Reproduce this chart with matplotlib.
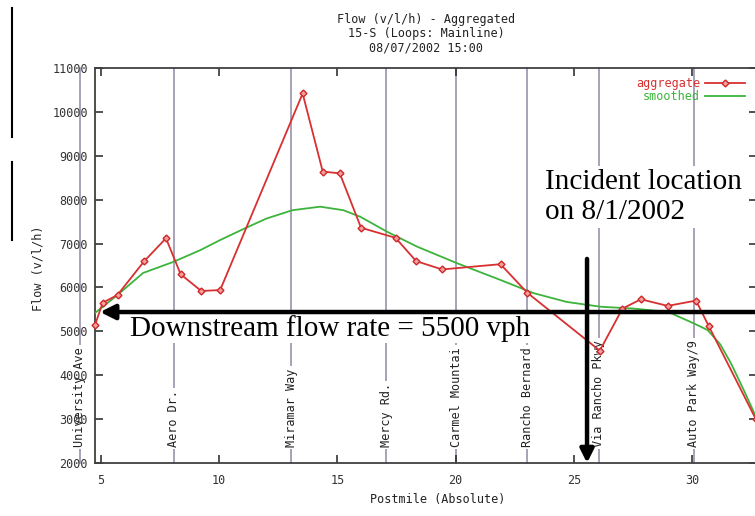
import matplotlib
matplotlib.use('Agg')
import matplotlib.pyplot as plt
from matplotlib.lines import Line2D

# aggregated flow per postmile
agg_pm = [4.75, 5.07, 5.7, 6.83, 7.75, 8.37, 9.24, 10.04, 13.53, 14.38, 15.1, 16.0,
          17.46, 18.33, 19.43, 21.9, 23.03, 26.1, 27.06, 27.84, 28.97, 30.17, 30.7, 32.7]
agg_flow = [5150, 5650, 5830, 6600, 7120, 6300, 5920, 5940, 10420, 8640, 8600, 7360,
            7130, 6600, 6410, 6530, 5880, 4560, 5520, 5730, 5580, 5700, 5130, 3000]

# smoothed curve
smooth_pm = [4.75, 5.7, 6.78, 8.05, 9.2, 10.04, 11.1, 12.0, 13.1, 14.27, 15.25, 15.97,
             17.1, 18.37, 20.07, 21.9, 23.3, 24.7, 26.14, 27.5, 29.0, 30.08, 30.66,
             31.2, 31.65, 32.2, 32.75]
smooth_flow = [5420, 5830, 6330, 6580, 6850, 7080, 7350, 7570, 7760, 7840, 7760, 7610,
               7270, 6930, 6550, 6170, 5870, 5670, 5560, 5520, 5440, 5180, 5030,
               4700, 4270, 3650, 3000]

# on/off ramps marked with vertical lines
ramp_pm = [4.11, 8.07, 13.05, 17.07, 20.03, 23.03, 26.05, 30.08]
ramp_names = ['University Ave', 'Aero Dr.', 'Miramar Way', 'Mercy Rd.',
              'Carmel Mountai', 'Rancho Bernard', 'Via Rancho Pkwy', 'Auto Park Way/9']

x_ticks = [5, 10, 15, 20, 25, 30]
y_ticks = list(range(2000, 11001, 1000))

downstream_flow = 5440
incident_pm = 25.56

W, H = 755, 516
fig = plt.figure(figsize=(W / 100, H / 100), dpi=100)
fig.patch.set_facecolor('white')

def fx(px):
    return px / W

def fy(py):
    return 1 - py / H

ax = fig.add_axes([fx(95), fy(463), fx(757) - fx(95), fy(68) - fy(463)])
ax.set_xlim(4.746, 32.75)
ax.set_ylim(2000, 11000)

mono = 'DejaVu Sans Mono'
fs = 8.5
grey = '#333333'

for s in ax.spines.values():
    s.set_color('#404040')
    s.set_linewidth(1.3)

ax.set_xticks(x_ticks)
ax.set_yticks(y_ticks)
ax.tick_params(direction='in', length=6, width=1.1, color='#222222',
               top=True, right=True, labelsize=fs, labelcolor=grey)
ax.tick_params(axis='x', pad=8)
ax.tick_params(axis='y', pad=5)
for lab in ax.get_xticklabels() + ax.get_yticklabels():
    lab.set_family(mono)

# ramp lines + labels (below the axis so tick labels stay readable)
for pm, name in zip(ramp_pm, ramp_names):
    ax.plot([pm, pm], [2000, 11000], color='#9a92ad', lw=1.2, zorder=1, clip_on=False)
    ax.text(pm, 2365, name, rotation=90, ha='center', va='bottom', family=mono,
            fontsize=fs, color='#222222', zorder=1.2, clip_on=False,
            bbox=dict(facecolor='white', edgecolor='none', pad=1.5))

ax.plot(smooth_pm, smooth_flow, color='#3cb43c', lw=1.3, zorder=3, clip_on=True)
ax.plot(agg_pm, agg_flow, color='#d83030', lw=1.3, marker='D', ms=3.5,
        mfc='#f2a0a0', mec='#d02828', mew=1, zorder=4, clip_on=False)

# legend drawn by hand, gnuplot style
fig.text(fx(700), fy(83), 'aggregate', ha='right', va='center', family=mono,
         fontsize=fs, color='#d83030')
fig.text(fx(700), fy(96), 'smoothed', ha='right', va='center', family=mono,
         fontsize=fs, color='#3cb43c')
fig.add_artist(Line2D([fx(705), fx(745)], [fy(83), fy(83)], color='#d83030', lw=1.3))
fig.add_artist(Line2D([fx(725)], [fy(83)], color='#d83030', marker='D', ms=3.5,
                      mfc='#f2a0a0', mec='#d02828'))
fig.add_artist(Line2D([fx(705), fx(745)], [fy(96), fy(96)], color='#3cb43c', lw=1.3))

# titles and axis labels
fig.text(fx(426), fy(20), 'Flow (v/l/h) - Aggregated', ha='center', va='center',
         family=mono, fontsize=fs, color='#222222')
fig.text(fx(426), fy(34), '15-S (Loops: Mainline)', ha='center', va='center',
         family=mono, fontsize=fs, color='#222222')
fig.text(fx(426), fy(48), '08/07/2002 15:00', ha='center', va='center',
         family=mono, fontsize=fs, color='#222222')
fig.text(fx(38), fy(268), 'Flow (v/l/h)', rotation=90, ha='center', va='center',
         family=mono, fontsize=fs, color='#222222')
fig.text(fx(438), fy(500), 'Postmile (Absolute)', ha='center', va='center',
         family=mono, fontsize=fs, color='#222222')

# annotations pasted over the chart
serif = 'Liberation Serif'
ax.text(fx(130), fy(315), 'Downstream flow rate = 5500 vph', transform=fig.transFigure,
        ha='left', va='top', family=serif, fontsize=21, color='black', zorder=5,
        bbox=dict(facecolor='white', edgecolor='none', pad=1))
ax.text(fx(545), fy(169), 'Incident location\non 8/1/2002', transform=fig.transFigure,
        ha='left', va='top', family=serif, fontsize=21, color='black', zorder=5,
        linespacing=1.22, bbox=dict(facecolor='white', edgecolor='none', pad=2))

ax.annotate('', xy=(4.96, downstream_flow), xytext=(32.75, downstream_flow),
            arrowprops=dict(arrowstyle='-|>', lw=3.2, color='black', mutation_scale=22,
                            shrinkA=0, shrinkB=0), zorder=6, annotation_clip=False)
ax.annotate('', xy=(incident_pm, 2000), xytext=(incident_pm, 6650),
            arrowprops=dict(arrowstyle='-|>', lw=3.2, color='black', mutation_scale=20,
                            shrinkA=0, shrinkB=0), zorder=6, annotation_clip=False)

# stray slide lines on the far left
fig.add_artist(Line2D([fx(12), fx(12)], [fy(8), fy(137)], color='black', lw=1.5))
fig.add_artist(Line2D([fx(12), fx(12)], [fy(162), fy(240)], color='black', lw=1.5))

fig.savefig('out.png', dpi=100, facecolor='white')
